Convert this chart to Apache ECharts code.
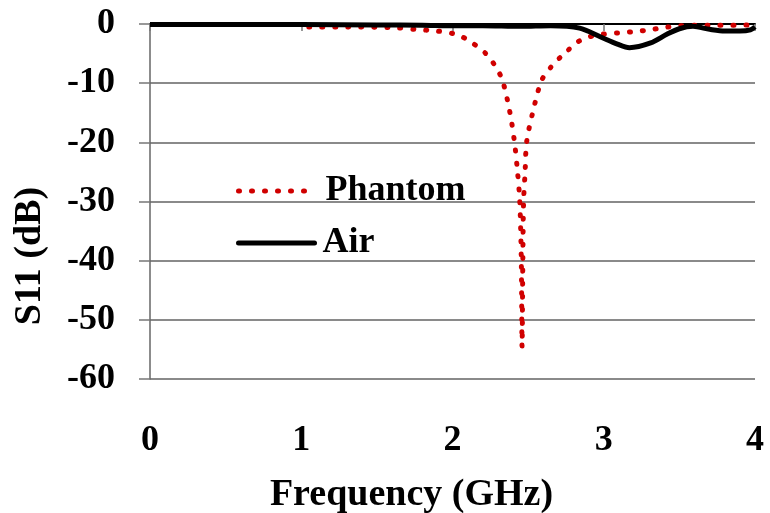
<!DOCTYPE html>
<html>
<head>
<meta charset="utf-8">
<script src="https://cdn.jsdelivr.net/npm/echarts@6/dist/echarts.min.js"></script>
<style>
  html, body { margin: 0; padding: 0; background: #fff; }
  #chart { width: 770px; height: 513px; }
</style>
</head>
<body>
<div id="chart"></div>
<script>
// S11 (frequency in GHz, return loss in dB)
const phantomFreq = [1.05, 1.3, 1.6, 1.75, 1.9, 2.0, 2.05, 2.12, 2.22, 2.28, 2.33, 2.38, 2.41, 2.43, 2.445, 2.455, 2.46,
  2.465, 2.47, 2.48, 2.49, 2.53, 2.59, 2.66, 2.74, 2.83, 2.9, 3.0, 3.1, 3.2, 3.3, 3.4, 3.5, 3.7, 3.9, 4.0]
const phantomS11 = [-0.5, -0.5, -0.6, -0.9, -1.2, -1.6, -2.0, -3.0, -5.0, -7.0, -9.5, -15, -20, -25, -30, -40, -54.6,
  -40, -30, -25, -20, -15, -9.5, -7.0, -5.0, -3.0, -2.2, -1.7, -1.5, -1.3, -1.0, -0.6, -0.3, -0.2, -0.2, -0.1]

const airFreq = [0, 0.5, 1.0, 1.5, 1.8, 2.0, 2.2, 2.45, 2.65, 2.84, 2.98, 3.09, 3.17, 3.31, 3.42, 3.5, 3.59, 3.7, 3.8, 3.9, 3.97, 4.0]
const airS11 = [-0.1, -0.1, -0.1, -0.15, -0.2, -0.3, -0.3, -0.4, -0.3, -0.7, -2.2, -3.4, -4.0, -3.2, -1.7, -0.8, -0.4, -0.9, -1.2, -1.2, -1.0, -0.5]

const xTicks = [0, 1, 2, 3, 4]
const yTicks = [0, -10, -20, -30, -40, -50, -60]

const font = '"Liberation Serif", "Times New Roman", serif'
const red = '#d00000'
const dots = [1, 12]
const pairs = (xs, ys) => xs.map((x, i) => [x, ys[i]])

const legendText = (gap) => ({ fontFamily: font, fontWeight: 'bold', fontSize: 36, color: '#000', padding: [0, 0, 0, gap] })

const chart = echarts.init(document.getElementById('chart'))

chart.setOption({
  animation: false,
  grid: { left: 150, right: 15, top: 24, bottom: 134, outerBoundsMode: 'none' },
  legend: [
    {
      data: ['Phantom'], left: 236, top: 173, orient: 'vertical', padding: 0,
      itemWidth: 72, itemHeight: 14,
      itemStyle: { opacity: 0 },
      lineStyle: { color: red, width: 5, type: dots, cap: 'round' },
      textStyle: legendText(10),
    },
    {
      data: ['Air'], left: 236, top: 225, orient: 'vertical', padding: 0,
      itemWidth: 76, itemHeight: 14,
      itemStyle: { opacity: 0 },
      lineStyle: { color: '#000', width: 5, cap: 'round' },
      textStyle: legendText(3),
    },
  ],
  xAxis: [
    {
      type: 'value',
      position: 'bottom',
      min: xTicks[0],
      max: xTicks[xTicks.length - 1],
      interval: 1,
      name: 'Frequency (GHz)',
      nameLocation: 'middle',
      nameGap: 97,
      nameTextStyle: { fontFamily: font, fontWeight: 'bold', fontSize: 38, color: '#000', padding: [0, 82, 0, 0] },
      axisLine: { show: false },
      axisTick: { show: false },
      splitLine: { show: false },
      axisLabel: { margin: 44, fontFamily: font, fontWeight: 'bold', fontSize: 36, color: '#000' },
    },
    {
      type: 'value',
      position: 'top',
      min: xTicks[0],
      max: xTicks[xTicks.length - 1],
      interval: 1,
      axisLine: { show: true, lineStyle: { color: '#000', width: 2 } },
      axisTick: { show: true, inside: true, length: 7, lineStyle: { color: '#777', width: 1.5 } },
      axisLabel: { show: false },
      splitLine: { show: false },
    },
  ],
  yAxis: {
    type: 'value',
    min: yTicks[yTicks.length - 1],
    max: yTicks[0],
    interval: 10,
    axisLine: { show: true, lineStyle: { color: '#666', width: 1.5 } },
    axisTick: { show: true, length: 11, lineStyle: { color: '#777', width: 1.5 } },
    splitLine: { show: true, lineStyle: { color: '#8a8a8a', width: 2 } },
    axisLabel: { margin: 35, fontFamily: font, fontWeight: 'bold', fontSize: 36, color: '#000' },
  },
  graphic: [
    {
      type: 'text',
      x: 30,
      y: 256,
      rotation: Math.PI / 2,
      style: {
        text: 'S11 (dB)',
        align: 'center',
        verticalAlign: 'middle',
        fontFamily: font,
        fontWeight: 'bold',
        fontSize: 38,
        fill: '#000',
      },
    },
  ],
  series: [
    {
      name: 'Phantom',
      type: 'line',
      data: pairs(phantomFreq, phantomS11),
      symbol: 'none',
      smooth: 0.3,
      itemStyle: { color: red },
      lineStyle: { color: red, width: 5, type: dots, cap: 'round' },
      z: 2,
    },
    {
      name: 'Air',
      type: 'line',
      data: pairs(airFreq, airS11),
      symbol: 'none',
      smooth: 0.3,
      itemStyle: { color: '#000' },
      lineStyle: { color: '#000', width: 5 },
      z: 3,
    },
  ],
})
</script>
</body>
</html>
